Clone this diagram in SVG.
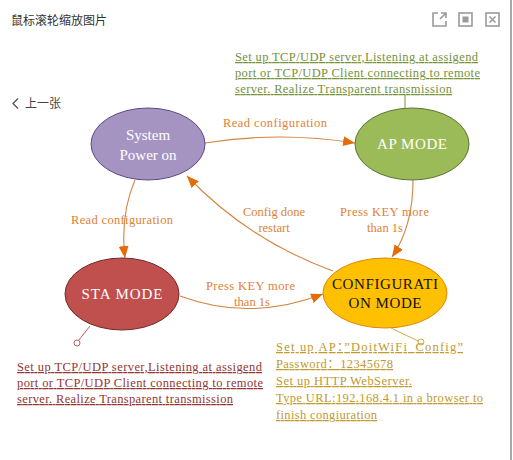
<svg xmlns="http://www.w3.org/2000/svg" width="513" height="460" viewBox="0 0 513 460">
<style>
.ui{font-family:"Noto Sans CJK SC","Noto Sans",sans-serif;font-size:12px;fill:#333}
.nl{font-family:"Liberation Serif",serif;font-size:15px;fill:#fff;text-anchor:middle}
.el{font-family:"Liberation Serif",serif;font-size:12.5px;fill:#df7f35}
.an{font-family:"Liberation Serif","Noto Sans CJK SC",serif;font-size:12.5px;text-decoration:underline}
.edge{fill:none;stroke:#d4843f;stroke-width:1.1}
.icon{fill:none;stroke:#9a9a9a;stroke-width:1.6}
</style>
<defs>
<marker id="arr" markerUnits="userSpaceOnUse" markerWidth="14" markerHeight="12" refX="12" refY="5" orient="auto">
<path d="M0,0 L12,5 L0,10 Z" fill="#e36c09"/>
</marker>
</defs>
<rect x="0" y="0" width="513" height="460" fill="#fff"/>
<line x1="511" y1="0" x2="511" y2="460" stroke="#a8a8a8" stroke-width="2"/>
<text class="ui" x="11" y="25">鼠标滚轮缩放图片</text>
<g id="icons">
<path class="icon" d="M438,13 H433 V26 H446 V21 M440,19 L446,13 M441,13 H446 V18"/>
<rect class="icon" x="459" y="13" width="13" height="13"/>
<rect x="462.5" y="16.5" width="6" height="6" fill="#9a9a9a"/>
<rect class="icon" x="486" y="13" width="13" height="13"/>
<path class="icon" d="M489.5,16.5 L495.5,22.5 M495.5,16.5 L489.5,22.5"/>
</g>
<polyline points="18,98.5 13,103.5 18,108.5" fill="none" stroke="#555" stroke-width="1.3"/>
<text class="ui" x="25" y="108" font-size="13" fill="#444" style="fill:#444">上一张</text>
<g id="connectors">
<path class="edge" d="M205,143 Q280,131 355,143" marker-end="url(#arr)"/>
<path class="edge" d="M135,180 Q120,215 125,258" marker-end="url(#arr)"/>
<path class="edge" d="M333,271 Q248,240 187,176" marker-end="url(#arr)"/>
<path class="edge" d="M413,180 C413,215 405,238 392,257" marker-end="url(#arr)"/>
<path class="edge" d="M180,296 Q250,322 323,294" marker-end="url(#arr)"/>
<text class="el" x="223" y="127" textLength="104">Read configuration</text>
<text class="el" x="71" y="224" textLength="102">Read configuration</text>
<text class="el" x="274" y="216" text-anchor="middle">Config done</text>
<text class="el" x="274" y="232" text-anchor="middle">restart</text>
<text class="el" x="340" y="216" textLength="89">Press KEY more</text>
<text class="el" x="385" y="232" text-anchor="middle">than 1s</text>
<text class="el" x="206" y="290" textLength="89">Press KEY more</text>
<text class="el" x="252" y="306" text-anchor="middle">than 1s</text>
<line x1="405" y1="95" x2="405" y2="108" stroke="#77933c"/>
<line x1="90" y1="326" x2="78.5" y2="340.5" stroke="#c0605a"/>
<circle cx="77" cy="343" r="3" fill="#fff" stroke="#c0605a"/>
<line x1="391" y1="328" x2="418" y2="341" stroke="#d1ab45"/>
<circle cx="421" cy="342" r="3" fill="#fff" stroke="#d1ab45"/>
</g>
<g id="system">
<ellipse cx="148" cy="144" rx="57" ry="36" fill="#a594c2" stroke="#5c4a86"/>
<text class="nl" x="148" y="140">System</text>
<text class="nl" x="148" y="160">Power on</text>
</g>
<g id="ap">
<ellipse cx="412" cy="144" rx="57" ry="36" fill="#9bbb59" stroke="#5a7530"/>
<text class="nl" x="412" y="149" textLength="70">AP MODE</text>
</g>
<g id="sta">
<ellipse cx="122" cy="294" rx="57" ry="36" fill="#c0504d" stroke="#6f2a28"/>
<text class="nl" x="122" y="299" textLength="81">STA MODE</text>
</g>
<g id="config">
<ellipse cx="385" cy="293" rx="62" ry="35" fill="#ffc000" stroke="#e0860a"/>
<text class="nl" x="385" y="289" style="fill:#111" textLength="106">CONFIGURATI</text>
<text class="nl" x="385" y="308" style="fill:#111" textLength="73">ON MODE</text>
</g>
<g id="ap-note" fill="#76923c">
<text class="an" x="235" y="61" textLength="243">Set up TCP/UDP server,Listening at assigend</text>
<text class="an" x="235" y="77" textLength="245">port or TCP/UDP Client connecting to remote</text>
<text class="an" x="235" y="93" textLength="217">server. Realize Transparent transmission</text>
</g>
<g id="sta-note" fill="#943634">
<text class="an" x="17" y="371" textLength="245">Set up TCP/UDP server,Listening at assigend</text>
<text class="an" x="17" y="387" textLength="246">port or TCP/UDP Client connecting to remote</text>
<text class="an" x="17" y="403" textLength="216">server. Realize Transparent transmission</text>
</g>
<g id="config-note" fill="#c09a2e">
<text class="an" x="276" y="351" textLength="187">Set up AP：”DoitWiFi_Config”</text>
<text class="an" x="276" y="368" textLength="117">Password：12345678</text>
<text class="an" x="276" y="385" textLength="136">Set up HTTP WebServer.</text>
<text class="an" x="276" y="402" textLength="207">Type URL:192.168.4.1 in a browser to</text>
<text class="an" x="276" y="419" textLength="101">finish congiuration</text>
</g>
</svg>
